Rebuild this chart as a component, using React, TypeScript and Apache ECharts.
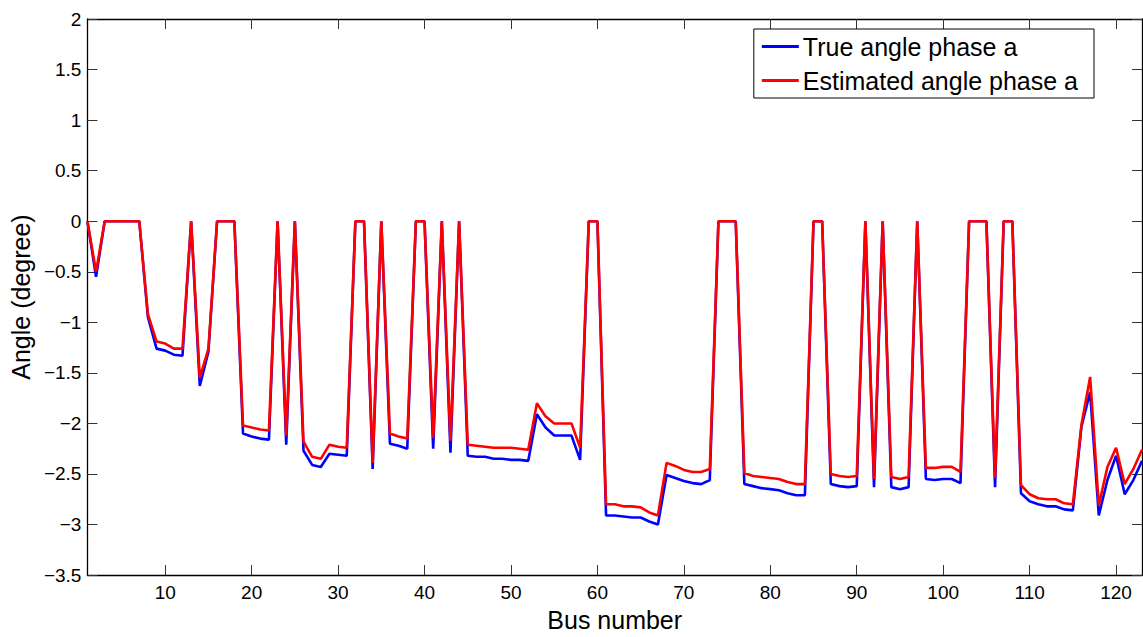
import React, { useEffect, useRef } from "react";
import * as echarts from "echarts";

const busNumbers: number[] = Array.from({ length: 123 }, (_, i) => i + 1);

const trueAngle: number[] = [
  0, -0.55, 0, 0, 0, 0, 0, -0.95, -1.26, -1.28,
  -1.32, -1.33, 0, -1.63, -1.29, 0, 0, 0, -2.1, -2.13,
  -2.15, -2.16, 0, -2.21, 0, -2.27, -2.41, -2.43, -2.3, -2.31,
  -2.32, 0, 0, -2.45, 0, -2.2, -2.22, -2.25, 0, 0,
  -2.25, 0, -2.29, 0, -2.32, -2.33, -2.33, -2.35, -2.35, -2.36,
  -2.36, -2.37, -1.91, -2.04, -2.12, -2.12, -2.12, -2.36, 0, 0,
  -2.91, -2.91, -2.92, -2.93, -2.93, -2.97, -3.0, -2.51, -2.54, -2.57,
  -2.59, -2.6, -2.56, 0, 0, 0, -2.6, -2.62, -2.64, -2.65,
  -2.66, -2.69, -2.71, -2.71, 0, 0, -2.6, -2.62, -2.63, -2.62,
  0, -2.63, 0, -2.63, -2.65, -2.63, 0, -2.55, -2.56, -2.55,
  -2.55, -2.59, 0, 0, 0, -2.63, 0, 0, -2.69, -2.77,
  -2.8, -2.82, -2.82, -2.85, -2.86, -2.03, -1.69, -2.91, -2.56, -2.32,
  -2.7, -2.56, -2.37,
];

const estAngle: number[] = [
  0, -0.5, 0, 0, 0, 0, 0, -0.92, -1.19, -1.21,
  -1.26, -1.26, 0, -1.55, -1.26, 0, 0, 0, -2.02, -2.04,
  -2.06, -2.07, 0, -2.12, 0, -2.18, -2.33, -2.35, -2.21, -2.23,
  -2.24, 0, 0, -2.39, 0, -2.1, -2.13, -2.15, 0, 0,
  -2.14, 0, -2.17, 0, -2.21, -2.22, -2.23, -2.24, -2.24, -2.24,
  -2.25, -2.26, -1.8, -1.93, -2.0, -2.0, -2.0, -2.24, 0, 0,
  -2.8, -2.8, -2.82, -2.82, -2.83, -2.88, -2.91, -2.39, -2.42, -2.46,
  -2.48, -2.48, -2.45, 0, 0, 0, -2.49, -2.52, -2.53, -2.54,
  -2.55, -2.58, -2.6, -2.6, 0, 0, -2.5, -2.52, -2.53, -2.52,
  0, -2.55, 0, -2.53, -2.55, -2.53, 0, -2.44, -2.44, -2.43,
  -2.43, -2.48, 0, 0, 0, -2.54, 0, 0, -2.61, -2.7,
  -2.74, -2.75, -2.75, -2.79, -2.8, -2.01, -1.54, -2.81, -2.43, -2.24,
  -2.6, -2.45, -2.26,
];

const xTicks: number[] = [10, 20, 30, 40, 50, 60, 70, 80, 90, 100, 110, 120];
const seriesNames: string[] = ["True angle phase a", "Estimated angle phase a"];

const FONT = "Liberation Sans, Arial, Helvetica, sans-serif";

export default function App() {
  const ref = useRef<HTMLDivElement>(null);

  useEffect(() => {
    if (!ref.current) return;
    const chart = echarts.init(ref.current, undefined, { renderer: "svg" });
    const axisLine = { show: true, onZero: false, lineStyle: { color: "#000", width: 1.3 } };
    const tickStyle = { color: "#333", width: 1 };
    const fmtY = (v: number) => String(v).replace("-", "\u2212");

    chart.setOption({
      animation: false,
      backgroundColor: "#fff",
      grid: { left: 87, top: 19, right: 1, bottom: 54, containLabel: false },
      legend: {
        orient: "vertical",
        right: 49,
        top: 29,
        backgroundColor: "#fff",
        borderColor: "#000",
        borderWidth: 1,
        padding: [5, 16, 5, 8],
        itemGap: 9,
        itemWidth: 37,
        itemHeight: 3,
        textStyle: { fontFamily: FONT, fontSize: 25, color: "#000", padding: [0, 0, 0, -1] },
        data: [
          { name: seriesNames[0], icon: "rect" },
          { name: seriesNames[1], icon: "rect" },
        ],
      },
      xAxis: [
        {
          type: "value",
          min: 1,
          max: 123,
          position: "bottom",
          name: "Bus number",
          nameLocation: "middle",
          nameGap: 26,
          nameTextStyle: { fontFamily: FONT, fontSize: 25, color: "#000" },
          axisLine,
          axisTick: { show: true, inside: true, length: 10, lineStyle: tickStyle, customValues: xTicks },
          axisLabel: { fontFamily: FONT, fontSize: 19, color: "#000", margin: 8, customValues: xTicks },
          splitLine: { show: false },
        },
        {
          type: "value",
          min: 1,
          max: 123,
          position: "top",
          axisLine,
          axisTick: { show: true, inside: true, length: 10, lineStyle: tickStyle, customValues: xTicks },
          axisLabel: { show: false },
          splitLine: { show: false },
        },
      ],
      yAxis: [
        {
          type: "value",
          min: -3.5,
          max: 2,
          interval: 0.5,
          position: "left",
          name: "Angle (degree)",
          nameLocation: "middle",
          nameGap: 43,
          nameTextStyle: { fontFamily: FONT, fontSize: 25, color: "#000" },
          axisLine,
          axisTick: { show: true, inside: true, length: 10, lineStyle: tickStyle },
          axisLabel: { fontFamily: FONT, fontSize: 19, color: "#000", margin: 6, formatter: fmtY },
          splitLine: { show: false },
        },
        {
          type: "value",
          min: -3.5,
          max: 2,
          interval: 0.5,
          position: "right",
          axisLine,
          axisTick: { show: true, inside: true, length: 10, lineStyle: tickStyle },
          axisLabel: { show: false },
          splitLine: { show: false },
        },
      ],
      series: [
        {
          name: seriesNames[0],
          type: "line",
          xAxisIndex: 0,
          yAxisIndex: 0,
          data: busNumbers.map((b, i) => [b, trueAngle[i]]),
          showSymbol: false,
          symbol: "none",
          lineStyle: { color: "#0000ff", width: 2.6 },
          itemStyle: { color: "#0000ff" },
        },
        {
          name: seriesNames[1],
          type: "line",
          xAxisIndex: 0,
          yAxisIndex: 0,
          data: busNumbers.map((b, i) => [b, estAngle[i]]),
          showSymbol: false,
          symbol: "none",
          lineStyle: { color: "#ff0000", width: 2.6 },
          itemStyle: { color: "#ff0000" },
        },
      ],
    });
    return () => chart.dispose();
  }, []);

  return <div ref={ref} style={{ width: 1143, height: 637, position: "absolute", left: 0, top: 0 }} />;
}
